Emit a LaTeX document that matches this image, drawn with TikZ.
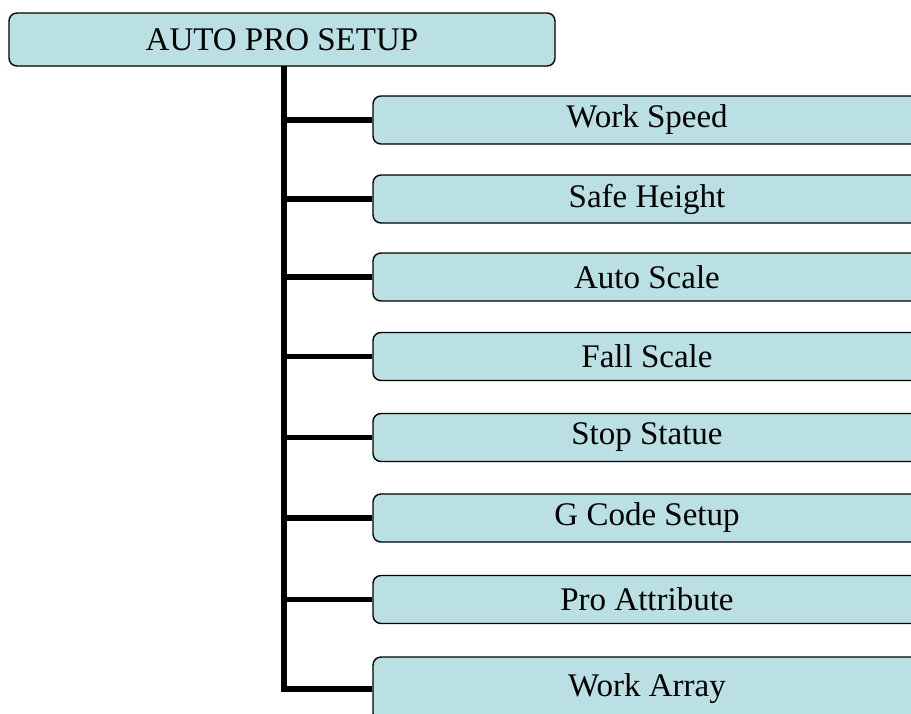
\documentclass[tikz,border=0pt]{standalone}
\usepackage{fontspec}
\setmainfont{Liberation Serif}
\definecolor{boxfill}{RGB}{186,224,227}
\begin{document}
\begin{tikzpicture}[x=1pt,y=-1pt,
  box/.style={draw=black, line width=1.4pt, fill=boxfill, rounded corners=8pt,
    inner sep=0pt, font=\fontsize{33}{36}\selectfont},
  topbox/.style={box, minimum width=546pt, minimum height=53pt},
  childbox/.style={box, minimum width=548pt, minimum height=48pt},
  conn/.style={draw=black, line width=5.5pt, line join=miter}]
\clip (0,0) rectangle (911,713);
\fill[white] (0,0) rectangle (911,713);
\node[topbox] (top) at (282,39.5) {AUTO PRO SETUP};
\coordinate (trunk) at (284,66);
\node[childbox] (c1) at (647,120) {Work Speed};
\node[childbox] (c2) at (647,199) {Safe Height};
\node[childbox] (c3) at (647,277) {Auto Scale};
\node[childbox] (c4) at (647,356.5) {Fall Scale};
\node[childbox] (c5) at (647,437.5) {Stop Statue};
\node[childbox] (c6) at (647,518) {G Code Setup};
\node[childbox] (c7) at (647,599.5) {Pro Attribute};
\node[childbox, minimum height=64pt] (c8) at (647,689) {\raisebox{6pt}{Work Array}};
\draw[conn] (trunk) -- (trunk |- c8.west) -- (c8.west);
\foreach \i in {1,...,7}{
  \draw[conn] (trunk |- c\i.west) -- (c\i.west);
}
\end{tikzpicture}
\end{document}
